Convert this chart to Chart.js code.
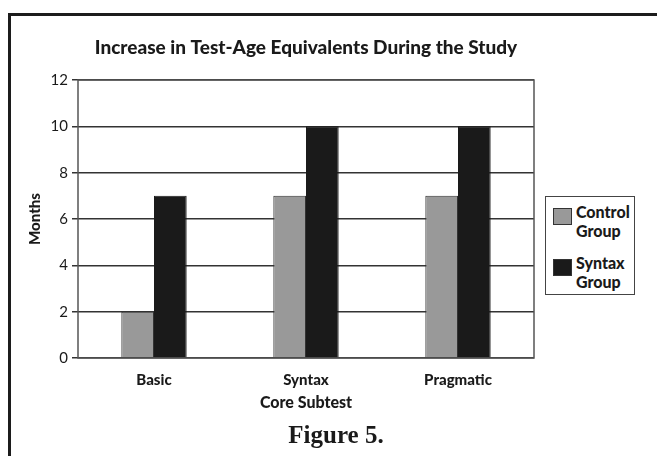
<!DOCTYPE html>
<html>
<head>
<meta charset="utf-8">
<script src="https://cdn.jsdelivr.net/npm/chart.js@4.4.1/dist/chart.umd.min.js"></script>
<style>
    html, body { margin: 0; padding: 0; background: #fff; }
    #wrap { position: relative; width: 657px; height: 456px; overflow: hidden; }
    #frame {
        position: absolute; left: 8px; top: 13px; width: 700px; height: 500px;
        border-left: 3px solid #1c1c1c; border-top: 3px solid #1c1c1c;
    }
    #legend {
        position: absolute; left: 545px; top: 196px; width: 88px; height: 97px;
        border: 1px solid #444; background: #fff;
        font-family: Lato, "Open Sans", sans-serif; font-weight: 900; font-size: 16px; color: #1a1a1a;
    }
    .item { position: absolute; left: 7px; display: flex; }
    .sw { width: 19px; height: 17px; border: 1px solid #333; box-sizing: border-box; margin-right: 4px; margin-top: 6px; }
    .txt { line-height: 19px; }
    #fig {
        position: absolute; left: 236px; width: 200px; top: 421px; text-align: center;
        font-family: "Liberation Serif", "DejaVu Serif", serif; font-weight: bold; font-size: 25px; color: #1a1a1a;
        line-height: 28px;
    }
</style>
</head>
<body>
<div id="wrap">
    <div id="frame"></div>
    <canvas id="chart" width="657" height="456"></canvas>
    <div id="legend"></div>
    <div id="fig">Figure 5.</div>
</div>
<script>
const categories = ["Basic", "Syntax", "Pragmatic"];
const controlGroup = [2, 7, 7];
const syntaxGroup = [7, 10, 10];
const seriesLabels = [["Control", "Group"], ["Syntax", "Group"]];
const yTicks = [0, 2, 4, 6, 8, 10, 12];

const font = "Lato, 'Open Sans', sans-serif";

// box round the plot area
const plotBox = {
    id: "plotBox",
    afterDatasetsDraw(chart) {
        const { ctx, chartArea } = chart;
        ctx.save();
        ctx.strokeStyle = "#555";
        ctx.lineWidth = 1.5;
        ctx.strokeRect(chartArea.left, chartArea.top, chartArea.right - chartArea.left, chartArea.bottom - chartArea.top);
        ctx.restore();
    },
};

const chart = new Chart(document.getElementById("chart"), {
    type: "bar",
    data: {
        labels: categories,
        datasets: [
            {
                label: seriesLabels[0].join(" "),
                data: controlGroup,
                backgroundColor: "#999999",
                borderColor: "#333",
                borderWidth: 1,
            },
            {
                label: seriesLabels[1].join(" "),
                data: syntaxGroup,
                backgroundColor: "#1a1a1a",
                borderColor: "#1a1a1a",
                borderWidth: 1,
            },
        ],
    },
    options: {
        responsive: false,
        animation: false,
        layout: { padding: { left: 22, right: 123, top: 0, bottom: 0 } },
        datasets: { bar: { categoryPercentage: 0.43, barPercentage: 1 } },
        plugins: {
            legend: { display: false },
            tooltip: { enabled: false },
            title: {
                display: true,
                fullSize: false,
                text: "Increase in Test-Age Equivalents During the Study",
                color: "#1a1a1a",
                font: { family: font, size: 19, weight: 900 },
                padding: { top: 36, bottom: 21.2 },
            },
        },
        scales: {
            x: {
                afterFit: (scale) => {
                    scale.height = 98;
                },
                grid: { display: false, drawTicks: false },
                border: { display: false },
                ticks: { color: "#1a1a1a", padding: 13, font: { family: font, size: 15, weight: 900 } },
                title: {
                    display: true,
                    text: "Core Subtest",
                    color: "#1a1a1a",
                    font: { family: font, size: 16, weight: 900 },
                    padding: { top: 4, bottom: 43.4 },
                },
            },
            y: {
                min: 0,
                max: 12,
                afterBuildTicks: (scale) => {
                    scale.ticks = yTicks.map((v) => ({ value: v }));
                },
                afterFit: (scale) => {
                    scale.width = 56;
                },
                grid: { color: "#333", lineWidth: 1.5, tickLength: 6, drawTicks: true },
                border: { display: false },
                ticks: { color: "#1a1a1a", padding: 4, font: { family: font, size: 15 } },
                title: {
                    display: true,
                    text: "Months",
                    color: "#1a1a1a",
                    font: { family: font, size: 15, weight: 900 },
                    padding: { top: 4, bottom: 0 },
                },
            },
        },
    },
    plugins: [plotBox],
});

// html legend with two line labels
const legend = document.getElementById("legend");
chart.data.datasets.forEach((ds, i) => {
    const item = document.createElement("div");
    item.className = "item";
    item.style.top = 5 + i * 51 + "px";
    const sw = document.createElement("div");
    sw.className = "sw";
    sw.style.background = ds.backgroundColor;
    const txt = document.createElement("div");
    txt.className = "txt";
    txt.innerHTML = seriesLabels[i].join("<br>");
    item.appendChild(sw);
    item.appendChild(txt);
    legend.appendChild(item);
});
</script>
</body>
</html>
